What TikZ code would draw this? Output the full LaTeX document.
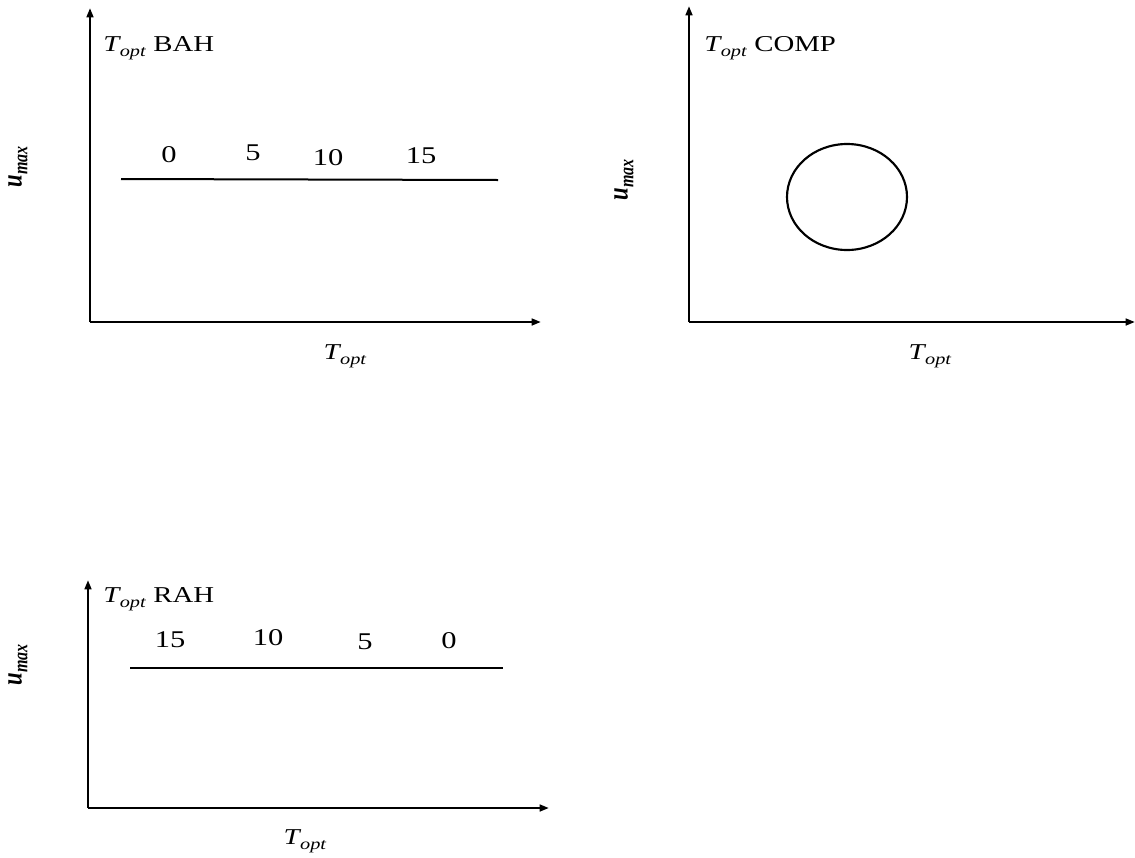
\documentclass[tikz,border=0pt]{standalone}
\usepackage{fontspec}
\setmainfont{Liberation Serif}
\usetikzlibrary{arrows.meta,shapes.geometric}
\newcommand{\mysub}[1]{\raisebox{-0.45ex}{\fontsize{12}{13}\selectfont #1}}
\newcommand{\myTopt}{\textit{T}\kern-0.04em\mysub{\textit{opt}}}
\newcommand{\myUmax}{\textbf{\textit{u}}\mysub{\textbf{\textit{max}}}}
\newcommand{\hs}[1]{\scalebox{1.27}[1]{#1}}
\newcommand{\vs}[1]{\scalebox{1}[1.27]{#1}}
\begin{document}
\begin{tikzpicture}[x=0.75pt,y=-0.75pt,
  axis/.style={line width=2.1pt,-{Triangle[length=7pt,width=5pt]}},
  level/.style={line width=1.5pt},
  num/.style={font=\fontsize{18}{20}\selectfont,inner sep=0pt},
  title/.style={font=\fontsize{17}{19}\selectfont,inner sep=0pt,anchor=west},
  xlab/.style={font=\fontsize{17}{19}\selectfont,inner sep=0pt},
  ylab/.style={font=\fontsize{17}{19}\selectfont,inner sep=0pt,rotate=90}]
\useasboundingbox (0,0) rectangle (1135,857);
% Panel 1
\coordinate (o1) at (90,322);
\coordinate (y1) at (90,8);
\coordinate (x1) at (541,322);
\draw[axis] (o1) -- (y1);
\draw[axis] (o1) -- (x1);
\coordinate (l1a) at (121,179);
\coordinate (l1b) at (498,180);
\draw[level] (l1a) -- (l1b);
\node[title] (t1) at (103,48) {\hs{\myTopt\ BAH}};
\node[num] (n10) at (169,155) {\hs{0}};
\node[num] (n15) at (253,153) {\hs{5}};
\node[num] (n110) at (328,158) {\hs{10}};
\node[num] (n115) at (421,156) {\hs{15}};
\node[ylab] (u1) at (18,167) {\vs{\myUmax}};
\node[xlab] (tx1) at (345,356) {\hs{\myTopt}};
% Panel 2
\coordinate (o2) at (689,322);
\coordinate (y2) at (689,6);
\coordinate (x2) at (1135,322);
\draw[axis] (o2) -- (y2);
\draw[axis] (o2) -- (x2);
\node[draw,line width=1.6pt,ellipse,minimum width=90pt,minimum height=79.5pt,inner sep=0pt] (c2) at (847,197) {};
\node[title] (t2) at (704,48) {\hs{\myTopt\ COMP}};
\node[ylab] (u2) at (624,180) {\vs{\myUmax}};
\node[xlab] (tx2) at (930,356) {\hs{\myTopt}};
% Panel 3
\coordinate (o3) at (88,808);
\coordinate (y3) at (88,580);
\coordinate (x3) at (549,808);
\draw[axis] (o3) -- (y3);
\draw[axis] (o3) -- (x3);
\coordinate (l3a) at (130,668);
\coordinate (l3b) at (503,668);
\draw[level] (l3a) -- (l3b);
\node[title] (t3) at (103,599) {\hs{\myTopt\ RAH}};
\node[num] (n315) at (170,640) {\hs{15}};
\node[num] (n310) at (268,638) {\hs{10}};
\node[num] (n35) at (365,642) {\hs{5}};
\node[num] (n30) at (449,641) {\hs{0}};
\node[ylab] (u3) at (18,665) {\vs{\myUmax}};
\node[xlab] (tx3) at (305,841) {\hs{\myTopt}};
\end{tikzpicture}
\end{document}
